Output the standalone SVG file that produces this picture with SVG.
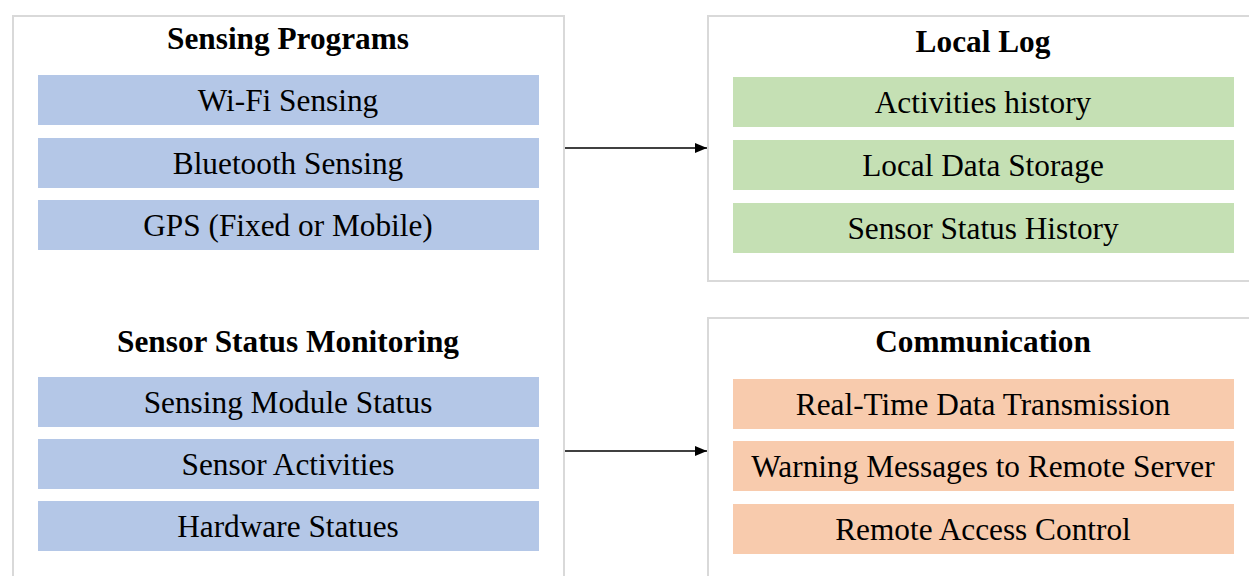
<svg xmlns="http://www.w3.org/2000/svg" width="1249" height="576" viewBox="0 0 1249 576">
<style>
.frame{fill:#ffffff;stroke:#d9d9d9;stroke-width:2}
.title{font-family:"Liberation Serif","Times New Roman",serif;font-weight:bold;font-size:31.3px;fill:#000;text-anchor:middle}
.item{font-family:"Liberation Serif","Times New Roman",serif;font-size:31.3px;fill:#000;text-anchor:middle}
.blue{fill:#b4c7e7}
.green{fill:#c5e0b4}
.orange{fill:#f8cbad}
.conn{stroke:#000;stroke-width:1.5;fill:none}
</style>
<defs>
<marker id="arrow" viewBox="0 0 12 10" refX="12" refY="5" markerWidth="12" markerHeight="10" markerUnits="userSpaceOnUse" orient="auto">
<path d="M0,0 L12,5 L0,10 z" fill="#000"/>
</marker>
</defs>
<rect width="1249" height="576" fill="#ffffff"/>
<g id="left-panel">
<rect class="frame" x="13" y="16" width="551" height="580"/>
</g>
<g id="sensing-programs">
<text class="title" x="288" y="49">Sensing Programs</text>
<g id="wifi"><rect class="blue" x="38" y="75" width="501" height="50"/><text class="item" x="288" y="111">Wi-Fi Sensing</text></g>
<g id="bluetooth"><rect class="blue" x="38" y="138" width="501" height="50"/><text class="item" x="288" y="174">Bluetooth Sensing</text></g>
<g id="gps"><rect class="blue" x="38" y="200" width="501" height="50"/><text class="item" x="288" y="236">GPS (Fixed or Mobile)</text></g>
</g>
<g id="sensor-status">
<text class="title" x="288" y="352">Sensor Status Monitoring</text>
<g id="module-status"><rect class="blue" x="38" y="377" width="501" height="50"/><text class="item" x="288" y="413">Sensing Module Status</text></g>
<g id="activities"><rect class="blue" x="38" y="439" width="501" height="50"/><text class="item" x="288" y="475">Sensor Activities</text></g>
<g id="hardware"><rect class="blue" x="38" y="501" width="501" height="50"/><text class="item" x="288" y="537">Hardware Statues</text></g>
</g>
<g id="local-log">
<rect class="frame" x="708" y="16" width="560" height="265"/>
<text class="title" x="983" y="52">Local Log</text>
<g id="activities-history"><rect class="green" x="733" y="77" width="501" height="50"/><text class="item" x="983" y="113">Activities history</text></g>
<g id="local-storage"><rect class="green" x="733" y="140" width="501" height="50"/><text class="item" x="983" y="176">Local Data Storage</text></g>
<g id="status-history"><rect class="green" x="733" y="203" width="501" height="50"/><text class="item" x="983" y="239">Sensor Status History</text></g>
</g>
<g id="communication">
<rect class="frame" x="708" y="318" width="560" height="280"/>
<text class="title" x="983" y="352">Communication</text>
<g id="realtime"><rect class="orange" x="733" y="379" width="501" height="50"/><text class="item" x="983" y="415">Real-Time Data Transmission</text></g>
<g id="warning"><rect class="orange" x="733" y="441" width="501" height="50"/><text class="item" x="983" y="477">Warning Messages to Remote Server</text></g>
<g id="remote-access"><rect class="orange" x="733" y="504" width="501" height="50"/><text class="item" x="983" y="540">Remote Access Control</text></g>
</g>
<g id="connectors">
<line class="conn" x1="565" y1="148" x2="707" y2="148" marker-end="url(#arrow)"/>
<line class="conn" x1="565" y1="451" x2="707" y2="451" marker-end="url(#arrow)"/>
</g>
</svg>
